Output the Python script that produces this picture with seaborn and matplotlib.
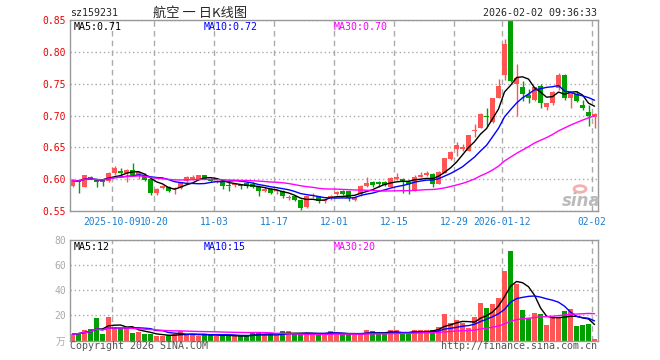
import numpy as np
import pandas as pd
import matplotlib
matplotlib.use("Agg")
import matplotlib.pyplot as plt
import seaborn as sns

sns.set_theme(style="white")
plt.rcParams['font.family'] = ['DejaVu Sans Mono', 'Noto Sans CJK SC']

# 日K数据
opens = [0.589, 0.597, 0.588, 0.604, 0.600, 0.598, 0.597, 0.609, 0.613, 0.609,
         0.614, 0.606, 0.606, 0.600, 0.579, 0.586, 0.588, 0.584, 0.586, 0.597,
         0.601, 0.601, 0.606, 0.601, 0.595, 0.596, 0.591, 0.591, 0.591, 0.594,
         0.593, 0.587, 0.582, 0.585, 0.581, 0.582, 0.570, 0.573, 0.568, 0.556,
         0.573, 0.573, 0.565, 0.570, 0.576, 0.582, 0.581, 0.567, 0.576, 0.589,
         0.596, 0.596, 0.596, 0.588, 0.600, 0.601, 0.595, 0.583, 0.604, 0.606,
         0.608, 0.593, 0.610, 0.631, 0.648, 0.648, 0.645, 0.676, 0.681, 0.700,
         0.690, 0.728, 0.763, 0.848, 0.750, 0.744, 0.732, 0.724, 0.747, 0.714,
         0.719, 0.743, 0.764, 0.727, 0.734, 0.716, 0.706, 0.698]
highs = [0.600, 0.598, 0.607, 0.605, 0.601, 0.600, 0.611, 0.621, 0.617, 0.616,
         0.625, 0.612, 0.609, 0.601, 0.586, 0.591, 0.589, 0.588, 0.596, 0.605,
         0.606, 0.607, 0.607, 0.602, 0.598, 0.597, 0.595, 0.594, 0.593, 0.595,
         0.595, 0.589, 0.587, 0.586, 0.584, 0.583, 0.575, 0.574, 0.569, 0.574,
         0.578, 0.574, 0.569, 0.575, 0.581, 0.583, 0.582, 0.573, 0.591, 0.604,
         0.597, 0.597, 0.597, 0.604, 0.609, 0.602, 0.598, 0.606, 0.611, 0.613,
         0.609, 0.613, 0.634, 0.645, 0.658, 0.656, 0.670, 0.686, 0.704, 0.711,
         0.728, 0.757, 0.820, 0.850, 0.781, 0.754, 0.741, 0.745, 0.749, 0.720,
         0.739, 0.767, 0.765, 0.737, 0.738, 0.724, 0.717, 0.704]
lows = [0.587, 0.579, 0.587, 0.600, 0.588, 0.589, 0.595, 0.607, 0.607, 0.595,
        0.605, 0.601, 0.597, 0.575, 0.575, 0.585, 0.580, 0.577, 0.585, 0.596,
        0.599, 0.600, 0.600, 0.595, 0.594, 0.584, 0.582, 0.588, 0.585, 0.586,
        0.586, 0.573, 0.580, 0.577, 0.577, 0.570, 0.567, 0.565, 0.551, 0.555,
        0.570, 0.563, 0.562, 0.568, 0.575, 0.575, 0.566, 0.565, 0.574, 0.588,
        0.587, 0.588, 0.590, 0.587, 0.599, 0.578, 0.577, 0.582, 0.603, 0.605,
        0.588, 0.592, 0.609, 0.630, 0.637, 0.645, 0.644, 0.666, 0.680, 0.684,
        0.689, 0.727, 0.755, 0.752, 0.700, 0.723, 0.719, 0.722, 0.711, 0.708,
        0.717, 0.740, 0.725, 0.712, 0.721, 0.709, 0.684, 0.681]
closes = [0.598, 0.596, 0.606, 0.601, 0.596, 0.596, 0.609, 0.617, 0.610, 0.615,
          0.606, 0.611, 0.598, 0.579, 0.585, 0.590, 0.582, 0.585, 0.595, 0.604,
          0.604, 0.606, 0.601, 0.597, 0.597, 0.590, 0.589, 0.593, 0.589, 0.590,
          0.588, 0.582, 0.585, 0.578, 0.583, 0.574, 0.572, 0.567, 0.555, 0.573,
          0.575, 0.565, 0.568, 0.574, 0.580, 0.577, 0.570, 0.572, 0.590, 0.594,
          0.591, 0.592, 0.591, 0.602, 0.603, 0.595, 0.592, 0.603, 0.607, 0.609,
          0.593, 0.611, 0.633, 0.643, 0.654, 0.650, 0.669, 0.678, 0.703, 0.697,
          0.727, 0.746, 0.812, 0.754, 0.759, 0.733, 0.728, 0.744, 0.720, 0.719,
          0.737, 0.764, 0.727, 0.736, 0.723, 0.711, 0.700, 0.703]
volumes = [5.0, 6.0, 8.0, 9.0, 17.8, 5.0, 18.7, 10.5, 9.6, 9.8,
           6.3, 6.5, 5.0, 5.0, 3.5, 3.5, 4.0, 5.0, 7.2, 4.2,
           5.0, 3.5, 5.0, 5.0, 3.5, 3.5, 3.5, 3.5, 4.0, 3.5,
           6.0, 6.5, 5.0, 5.0, 4.2, 7.4, 7.4, 5.0, 5.0, 5.0,
           6.3, 6.3, 5.0, 7.4, 5.0, 5.0, 5.0, 5.0, 5.0, 8.3,
           7.4, 5.0, 5.0, 8.3, 8.3, 5.0, 5.0, 8.3, 8.0, 8.3,
           8.3, 10.6, 21.0, 14.1, 16.2, 14.1, 9.8, 18.9, 29.8, 25.8,
           29.0, 34.1, 55.4, 71.4, 45.0, 24.2, 17.8, 21.8, 21.0, 12.2,
           18.0, 18.0, 23.4, 25.0, 11.6, 12.4, 13.3, 1.2]

tick_idx = [7, 14, 24, 34, 44, 54, 64, 72, 87]
tick_labels = ['2025-10-09', '10-20', '11-03', '11-17', '12-01',
               '12-15', '12-29', '2026-01-12', '02-02']
price_ticks = [0.55, 0.60, 0.65, 0.70, 0.75, 0.80, 0.85]
vol_ticks = [0, 20, 40, 60, 80]

RED = '#ff5555'
GREEN = '#00a000'
GRID = '#aaaaaa'
BORDER = '#999999'

df = pd.DataFrame({'open': opens, 'high': highs, 'low': lows,
                   'close': closes, 'vol': volumes})
df['idx'] = np.arange(len(df))
df['dir'] = np.where(df['close'] >= df['open'], 'up', 'down')
for n in (5, 10, 30):
    df[f'ma{n}'] = df['close'].rolling(n, min_periods=1).mean()
    df[f'vma{n}'] = df['vol'].rolling(n, min_periods=1).mean()

W, H = 660, 360
fig = plt.figure(figsize=(W / 100, H / 100), dpi=100)
fig.patch.set_facecolor('white')


def fx(px):
    return px / W


def fy(py):
    return 1 - py / H


ax = fig.add_axes([fx(70), fy(211), 528 / W, 191 / H])
axv = fig.add_axes([fx(70), fy(340.5), 528 / W, 100.5 / H])

# K线
colors = np.where(df['dir'] == 'up', RED, GREEN)
ax.vlines(df['idx'], df['low'], df['high'], colors=colors, lw=1, zorder=2)
body = np.maximum((df['close'] - df['open']).abs(), 0.0016)
ax.bar(df['idx'], body, bottom=np.minimum(df['open'], df['close']),
       width=0.75, color=colors, linewidth=0, zorder=2)

for col, c in (('ma5', 'black'), ('ma10', '#0000ff'), ('ma30', '#ff00ff')):
    sns.lineplot(data=df, x='idx', y=col, ax=ax, color=c, lw=1, zorder=3)

# 成交量
sns.barplot(data=df, x='idx', y='vol', hue='dir', ax=axv, native_scale=True,
            palette={'up': RED, 'down': GREEN}, dodge=False, width=0.8,
            saturation=1, errorbar=None, legend=False, linewidth=0, zorder=2)
for col, c in (('vma5', 'black'), ('vma10', '#0000ff'), ('vma30', '#ff00ff')):
    sns.lineplot(data=df, x='idx', y=col, ax=axv, color=c, lw=1, zorder=3)

grid_x = [t - 0.42 for t in tick_idx]
for a in (ax, axv):
    a.set_xlim(-0.42, 87.58)
    a.set_xlabel('')
    a.set_ylabel('')
    for x in grid_x:
        a.axvline(x, color=GRID, lw=1, ls=(0, (4, 3)), zorder=0)
    for s in a.spines.values():
        s.set_color(BORDER)
        s.set_linewidth(1)
    a.tick_params(length=0, labelsize=7, pad=3)
    a.set_facecolor('white')

ax.set_ylim(0.55, 0.85)
ax.set_yticks(price_ticks, [f'{v:.2f}' for v in price_ticks])
ax.tick_params(axis='y', labelcolor='#ee0000')
ax.yaxis.grid(True, color=GRID, lw=1, ls=(0, (1, 2)))
ax.set_xticks(grid_x, tick_labels)
ax.tick_params(axis='x', labelcolor='#1a7fd0', labelsize=6.9, pad=4)

axv.set_ylim(0, 80)
axv.set_yticks(vol_ticks, ['万', '20', '40', '60', '80'])
axv.tick_params(axis='y', labelcolor='#aaaaaa')
axv.yaxis.grid(True, color=GRID, lw=1, ls=(0, (1, 2)))
axv.set_xticks([])

# 文字
fig.text(fx(70), fy(13), 'sz159231', va='center', fontsize=7.2)
fig.text(fx(200), fy(13), '航空 一 日K线图', ha='center', va='center',
         fontsize=9.5, family=['Noto Sans CJK SC'])
fig.text(fx(597), fy(13), '2026-02-02 09:36:33', ha='right', va='center',
         fontsize=7.2)
ma_x = [74, 204, 334]
ma_c = ['black', '#0000ff', '#ff00ff']
for x, c, t in zip(ma_x, ma_c, ['MA5:0.71', 'MA10:0.72', 'MA30:0.70']):
    fig.text(fx(x), fy(27), t, color=c, va='center', fontsize=7.2)
for x, c, t in zip(ma_x, ma_c, ['MA5:12', 'MA10:15', 'MA30:20']):
    fig.text(fx(x), fy(246.5), t, color=c, va='center', fontsize=7.2)
fig.text(fx(70), fy(346), 'Copyright 2026 SINA.COM', va='center',
         fontsize=7.2, color='#555555')
fig.text(fx(597), fy(346), 'http://finance.sina.com.cn', ha='right',
         va='center', fontsize=7.2, color='#555555')

# sina 水印
fig.text(fx(581), fy(201), 'sina', ha='center', va='center', fontsize=12,
         color='#bbbbbb', style='italic', weight='bold', family=['DejaVu Sans'])
fig.patches.append(plt.Circle((fx(580), fy(189)), 6 / W, transform=fig.transFigure,
                              fill=False, ec='#f4b0b0', lw=2))

fig.savefig('out.png', dpi=100)
